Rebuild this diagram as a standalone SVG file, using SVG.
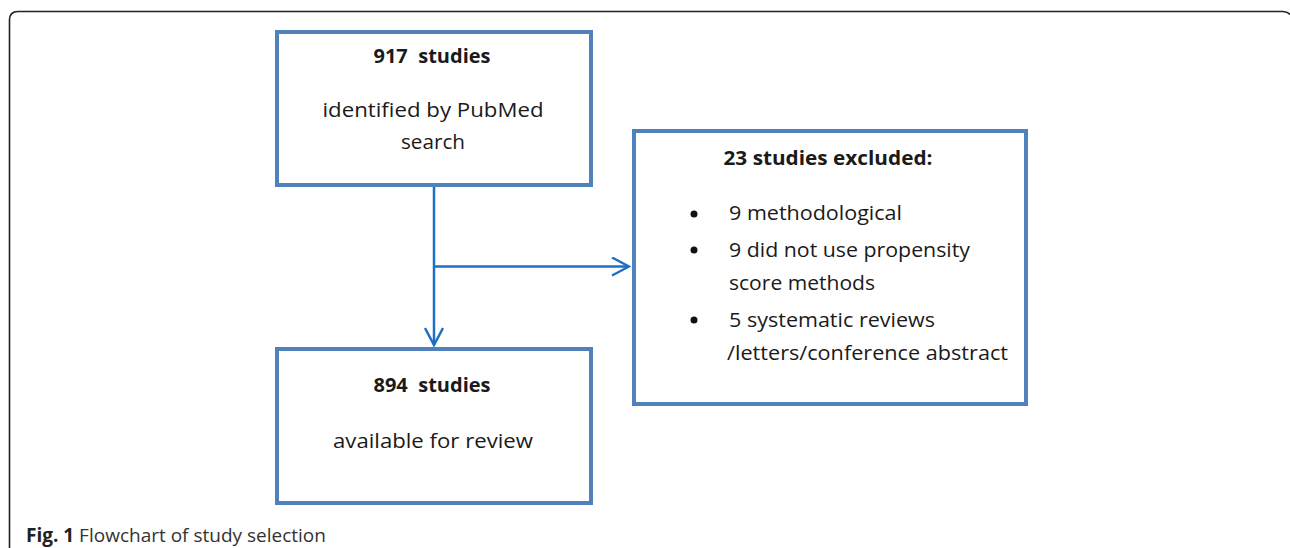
<svg xmlns="http://www.w3.org/2000/svg" width="1290" height="548" viewBox="0 0 1290 548">
  <style>
    .box { fill: #ffffff; stroke: #4f81bd; stroke-width: 4; }
    .t { font-family: "Open Sans", "Liberation Sans", sans-serif; font-size: 20px; fill: #1a1a1a; }
    .b { font-weight: bold; white-space: pre; }
    .conn { stroke: #1f6fc4; stroke-width: 2.5; fill: none; }
    .cap { font-family: "Open Sans", "Liberation Sans", sans-serif; font-size: 19px; fill: #333333; }
  </style>
  <defs>
    <marker id="arr" viewBox="0 0 20 20" refX="18" refY="10" markerWidth="20" markerHeight="20" markerUnits="userSpaceOnUse" orient="auto">
      <path d="M 1 1 L 18 10 L 1 19" fill="none" stroke="#1f6fc4" stroke-width="2.5"/>
    </marker>
  </defs>
  <rect width="1290" height="548" fill="#ffffff"/>
  <path d="M 9.5 548 V 20 Q 9.5 11.5 18 11.5 H 1283 Q 1287.5 11.5 1290 14.5" fill="none" stroke="#222222" stroke-width="1.6"/>

  <g id="connectors">
    <line class="conn" x1="434" y1="187" x2="434" y2="345" marker-end="url(#arr)"/>
    <line class="conn" x1="434" y1="266.5" x2="629" y2="266.5" marker-end="url(#arr)"/>
  </g>

  <g id="node-identified">
    <rect class="box" x="277" y="32" width="314" height="153"/>
    <text class="t b" x="432" y="63" text-anchor="middle" textLength="117" lengthAdjust="spacingAndGlyphs">917  studies</text>
    <text class="t" x="433" y="117" text-anchor="middle" textLength="221" lengthAdjust="spacingAndGlyphs">identified by PubMed</text>
    <text class="t" x="433" y="149" text-anchor="middle" textLength="64" lengthAdjust="spacingAndGlyphs">search</text>
  </g>

  <g id="node-excluded">
    <rect class="box" x="634" y="131" width="392" height="273"/>
    <text class="t b" x="828" y="165" text-anchor="middle" textLength="209" lengthAdjust="spacingAndGlyphs">23 studies excluded:</text>
    <circle cx="694" cy="214" r="3.5" fill="#111"/>
    <circle cx="694" cy="250" r="3.5" fill="#111"/>
    <circle cx="694" cy="320" r="3.5" fill="#111"/>
    <text class="t" x="729" y="220" textLength="173" lengthAdjust="spacingAndGlyphs">9 methodological</text>
    <text class="t" x="729" y="257" textLength="241" lengthAdjust="spacingAndGlyphs">9 did not use propensity</text>
    <text class="t" x="729" y="290" textLength="146" lengthAdjust="spacingAndGlyphs">score methods</text>
    <text class="t" x="729" y="327" textLength="206" lengthAdjust="spacingAndGlyphs">5 systematic reviews</text>
    <text class="t" x="727" y="360" textLength="281" lengthAdjust="spacingAndGlyphs">/letters/conference abstract</text>
  </g>

  <g id="node-available">
    <rect class="box" x="277" y="349" width="314" height="154"/>
    <text class="t b" x="432" y="392" text-anchor="middle" textLength="117" lengthAdjust="spacingAndGlyphs">894  studies</text>
    <text class="t" x="433" y="448" text-anchor="middle" textLength="200" lengthAdjust="spacingAndGlyphs">available for review</text>
  </g>

  <text class="cap" x="26" y="542"><tspan font-weight="bold" fill="#222">Fig. 1</tspan> Flowchart of study selection</text>
</svg>
